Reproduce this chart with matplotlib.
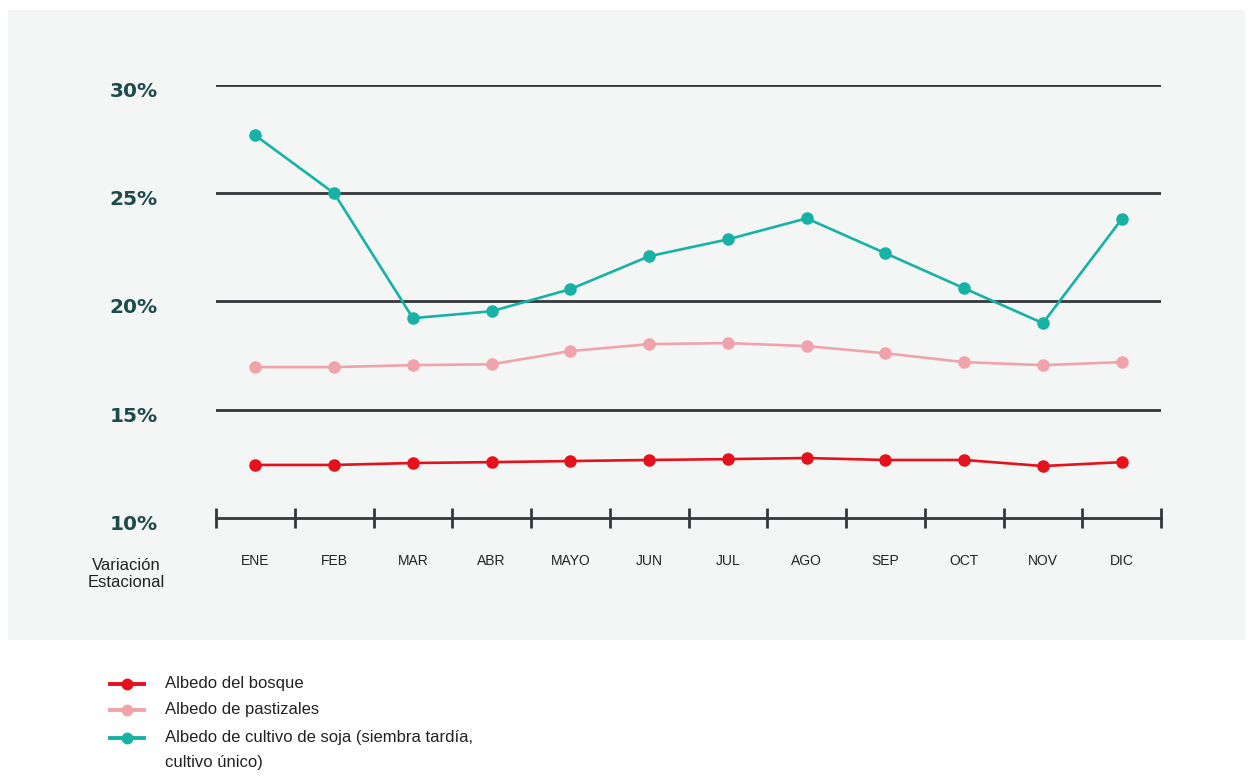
import matplotlib
matplotlib.use("Agg")
import matplotlib.pyplot as plt
from matplotlib.patches import Rectangle
from matplotlib.lines import Line2D

plt.rcParams["font.family"] = ["Liberation Sans", "DejaVu Sans"]

# -- Donnees -------------------------------------------------------------------
meses = ["ENE", "FEB", "MAR", "ABR", "MAYO", "JUN", "JUL", "AGO", "SEP", "OCT", "NOV", "DIC"]

albedo_bosque = [12.45, 12.45, 12.54, 12.58, 12.63, 12.68, 12.72, 12.77, 12.68, 12.68, 12.40, 12.58]
albedo_pastizales = [16.97, 16.97, 17.06, 17.10, 17.71, 18.03, 18.08, 17.94, 17.61, 17.20, 17.06, 17.20]
albedo_soja = [27.67, 25.00, 19.23, 19.55, 20.57, 22.09, 22.87, 23.84, 22.23, 20.61, 19.00, 23.80]

y_ticks = [10, 15, 20, 25, 30]
y_labels = ["10%", "15%", "20%", "25%", "30%"]

series = [
    ("Albedo del bosque", albedo_bosque, "#e5111c"),
    ("Albedo de pastizales", albedo_pastizales, "#f0a3ab"),
    ("Albedo de cultivo de soja (siembra tardía,\ncultivo único)", albedo_soja, "#15b2a5"),
]

W, H = 1251, 776
fig = plt.figure(figsize=(W / 100, H / 100), dpi=100)
fig.patch.set_facecolor("white")

# panneau gris de fond
fig.add_artist(Rectangle((8 / W, 1 - 640 / H), 1237 / W, 630 / H,
                         transform=fig.transFigure, facecolor="#f4f5f5",
                         edgecolor="none", zorder=0))

ax = fig.add_axes([216 / W, 1 - 518 / H, (1161 - 216) / W, (518 - 85) / H])
ax.set_facecolor("none")
ax.set_xlim(-0.5, 11.5)
ax.set_ylim(10, 30)

x = list(range(len(meses)))

# lignes horizontales
for yv in y_ticks[1:]:
    ax.axhline(yv, color="#33383a", lw=2, zorder=1)

for nom, vals, col in series:
    ax.plot(x, vals, color=col, lw=1.9, marker="o", ms=8, zorder=3, clip_on=False)

# axe du bas avec graduations
for s in ["top", "right", "left"]:
    ax.spines[s].set_visible(False)
ax.spines["bottom"].set_color("#33383a")
ax.spines["bottom"].set_linewidth(2)
ax.set_xticks([i - 0.5 for i in range(13)])
ax.set_xticklabels([])
ax.tick_params(axis="x", which="major", direction="inout", length=14, width=2, color="#33383a")
ax.set_xticks(x, meses, minor=True)
ax.tick_params(axis="x", which="minor", length=0, pad=26, labelsize=10, labelcolor="#222222")
ax.set_yticks([])

# etiquettes de l'axe Y
for yv, lab in zip(y_ticks, y_labels):
    ax.text(-1.55, yv - 0.3, lab, ha="center", va="center", fontsize=14.5,
            fontweight="bold", color="#1d4a4a", family="DejaVu Sans", clip_on=False)

fig.text(126 / W, 1 - 574 / H, "Variación\nEstacional", ha="center", va="center",
         fontsize=12, color="#222222", linespacing=1.15)

# legende manuelle
leg_y = [684, 710, 738]
for (nom, vals, col), py in zip(series, leg_y):
    yf = 1 - py / H
    fig.add_artist(Line2D([110 / W, 144 / W], [yf, yf], color=col, lw=2.8,
                          transform=fig.transFigure))
    fig.add_artist(Line2D([127 / W], [yf], color=col, marker="o", ms=7.5,
                          transform=fig.transFigure))
    fig.text(165 / W, yf + 8 / H, nom, ha="left", va="top",
             fontsize=12, color="#222222", linespacing=1.85)

fig.savefig("out.png", dpi=100)
